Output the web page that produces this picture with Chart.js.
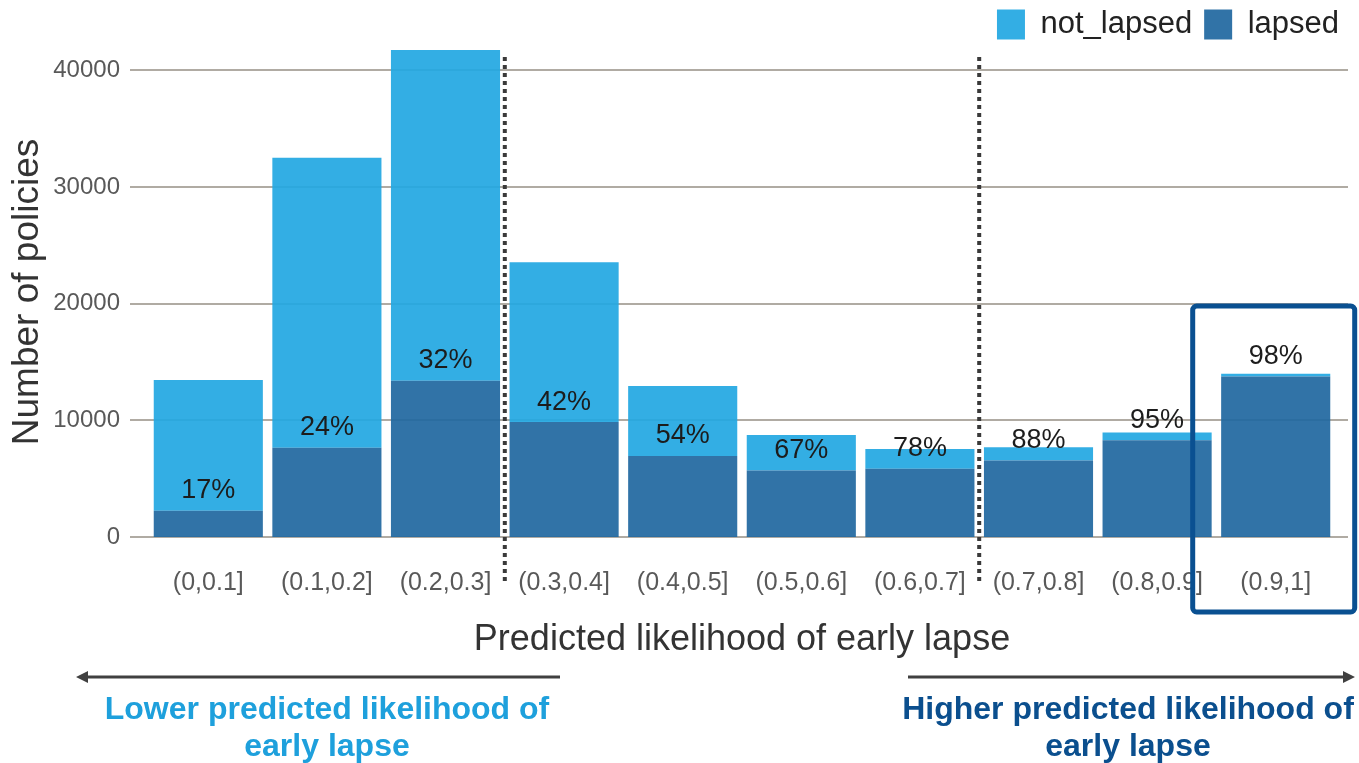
<!DOCTYPE html>
<html>
<head>
<meta charset="utf-8">
<script src="https://cdn.jsdelivr.net/npm/chart.js@4.4.1/dist/chart.umd.min.js"></script>
<style>
  html, body { margin: 0; padding: 0; background: #fff; }
  #wrap { position: relative; width: 1359px; height: 763px; }
  #chartCanvas { position: absolute; left: 0; top: 0; }
  .note { position: absolute; width: 520px; text-align: center; font: bold 32px 'Liberation Sans', Arial, sans-serif; line-height: 37px; }
  #lowNote { left: 67px; top: 690px; color: #1ea0dc; }
  #highNote { left: 868px; top: 690px; color: #0b4f8e; }
</style>
</head>
<body>
<div id="wrap">
  <canvas id="chartCanvas" width="1359" height="763"></canvas>
  <div class="note" id="lowNote">Lower predicted likelihood of<br>early lapse</div>
  <div class="note" id="highNote">Higher predicted likelihood of<br>early lapse</div>
</div>
<script>
// bins of predicted likelihood
const categories = ['(0,0.1]', '(0.1,0.2]', '(0.2,0.3]', '(0.3,0.4]', '(0.4,0.5]', '(0.5,0.6]', '(0.6,0.7]', '(0.7,0.8]', '(0.8,0.9]', '(0.9,1]'];
// number of policies per bin
const lapsed = [2250, 7650, 13400, 9850, 6950, 5700, 5850, 6550, 8300, 13750];
const notLapsed = [11200, 24850, 28350, 13700, 6000, 3050, 1700, 1150, 650, 250];
// share of lapsed policies shown on the bars
const lapseRates = ['17%', '24%', '32%', '42%', '54%', '67%', '78%', '88%', '95%', '98%'];
const yTicks = [0, 10000, 20000, 30000, 40000];
// dotted separators are drawn after these bin indexes
const separatorsAfter = [2, 6];

const font = "'Liberation Sans', Arial, sans-serif";

// grid lines, percent labels, separators, highlight box and arrows
const decorations = {
    id: 'decorations',
    beforeDatasetsDraw(chart) {
        const { ctx, scales: { y }, chartArea } = chart;
        ctx.save();
        ctx.strokeStyle = '#b0aba3';
        ctx.lineWidth = 2;
        yTicks.forEach((v) => {
            const py = Math.round(y.getPixelForValue(v));
            ctx.beginPath();
            ctx.moveTo(chartArea.left - 19, py);
            ctx.lineTo(chartArea.right + 13, py);
            ctx.stroke();
        });
        ctx.restore();
    },
    afterDatasetsDraw(chart) {
        const { ctx, scales: { x, y }, chartArea } = chart;
        ctx.save();

        // lapse rate above the lapsed part of each bar
        const meta = chart.getDatasetMeta(0);
        ctx.font = '27px ' + font;
        ctx.fillStyle = '#1c1c1c';
        ctx.textAlign = 'center';
        ctx.textBaseline = 'middle';
        meta.data.forEach((bar, i) => {
            ctx.fillText(lapseRates[i], bar.x, bar.y - 20);
        });

        // dotted separators
        ctx.strokeStyle = '#3a3a3a';
        ctx.lineWidth = 4;
        ctx.setLineDash([4, 4]);
        separatorsAfter.forEach((idx) => {
            const px = (x.getPixelForValue(idx) + x.getPixelForValue(idx + 1)) / 2;
            ctx.beginPath();
            ctx.moveTo(px, chartArea.top + 10);
            ctx.lineTo(px, chartArea.bottom + 45);
            ctx.stroke();
        });
        ctx.setLineDash([]);

        // box round the last bin
        const last = x.getPixelForValue(categories.length - 1);
        const top = y.getPixelForValue(19800);
        ctx.strokeStyle = '#0a5091';
        ctx.lineWidth = 5;
        ctx.beginPath();
        ctx.roundRect(last - 83, top, 162, chartArea.bottom + 75 - top, 4);
        ctx.stroke();

        // arrows under the axis title
        ctx.strokeStyle = '#404040';
        ctx.fillStyle = '#404040';
        ctx.lineWidth = 3;
        const ay = 677;
        ctx.beginPath();
        ctx.moveTo(560, ay);
        ctx.lineTo(84, ay);
        ctx.moveTo(908, ay);
        ctx.lineTo(1347, ay);
        ctx.stroke();
        ctx.beginPath();
        ctx.moveTo(76, ay);
        ctx.lineTo(88, ay - 6);
        ctx.lineTo(88, ay + 6);
        ctx.closePath();
        ctx.moveTo(1355, ay);
        ctx.lineTo(1343, ay - 6);
        ctx.lineTo(1343, ay + 6);
        ctx.closePath();
        ctx.fill();

        ctx.restore();
    }
};

const ctx = document.getElementById('chartCanvas');
window.myChart = new Chart(ctx, {
    type: 'bar',
    data: {
        labels: categories,
        datasets: [{
            label: 'lapsed',
            data: lapsed,
            backgroundColor: 'rgba(32, 103, 160, 0.92)',
            borderWidth: 0
        }, {
            label: 'not_lapsed',
            data: notLapsed,
            backgroundColor: 'rgba(34, 167, 226, 0.92)',
            borderWidth: 0
        }]
    },
    options: {
        responsive: false,
        animation: false,
        devicePixelRatio: 1,
        layout: { padding: { top: -3, right: 8, bottom: 0, left: 0 } },
        datasets: {
            bar: { categoryPercentage: 1, barPercentage: 0.92 }
        },
        plugins: {
            legend: {
                position: 'top',
                align: 'end',
                reverse: true,
                maxHeight: 50,
                labels: {
                    boxWidth: 28,
                    boxHeight: 30,
                    padding: 12,
                    color: '#222',
                    font: { family: font, size: 31 }
                }
            },
            tooltip: { enabled: false }
        },
        scales: {
            x: {
                stacked: true,
                grid: { display: false },
                border: { display: false },
                ticks: {
                    color: '#595959',
                    font: { family: font, size: 25 },
                    padding: 23,
                    maxRotation: 0,
                    autoSkip: false
                },
                title: {
                    display: true,
                    text: 'Predicted likelihood of early lapse',
                    color: '#333',
                    font: { family: font, size: 36 },
                    padding: { top: 0, bottom: 101 }
                },
                afterFit: (axis) => { axis.height = 226; }
            },
            y: {
                stacked: true,
                min: 0,
                max: 42000,
                grid: { display: false },
                border: { display: false },
                afterBuildTicks: (axis) => {
                    axis.ticks = yTicks.map((v) => ({ value: v }));
                },
                ticks: {
                    autoSkip: false,
                    color: '#595959',
                    font: { family: font, size: 24 },
                    padding: 21,
                    callback: (v) => String(v)
                },
                title: {
                    display: true,
                    text: 'Number of policies',
                    color: '#333',
                    font: { family: font, size: 37 },
                    padding: { top: 6, bottom: 0 }
                },
                afterFit: (axis) => { axis.width = 149; }
            },
            // empty right axis keeps the plot narrower than the legend row
            y2: {
                position: 'right',
                display: true,
                grid: { display: false },
                border: { display: false },
                ticks: { display: false },
                afterFit: (axis) => { axis.width = 16; }
            }
        }
    },
    plugins: [decorations]
});
</script>
</body>
</html>
